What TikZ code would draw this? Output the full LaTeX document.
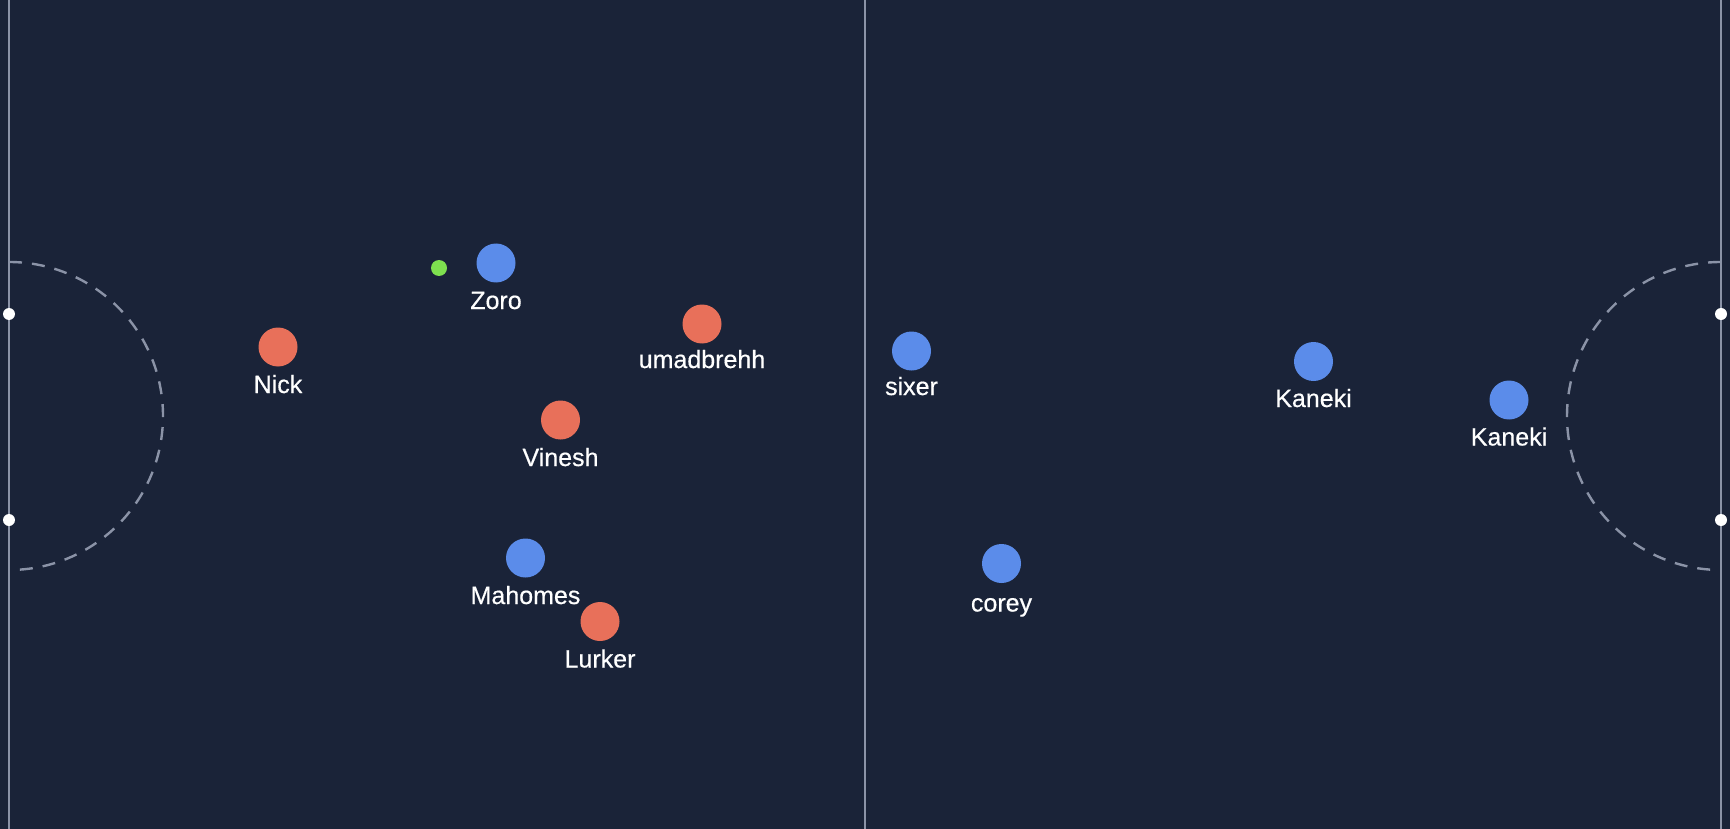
\documentclass[tikz,border=0pt]{standalone}
\usepackage{fontspec}
\setmainfont{Liberation Sans}[FakeBold=0.5]
\definecolor{bg}{HTML}{1A2338}
\definecolor{lineg}{HTML}{8B93A7}
\definecolor{arcg}{HTML}{8B93A7}
\definecolor{pblue}{HTML}{5B8CEA}
\definecolor{pred}{HTML}{E8705A}
\definecolor{pgreen}{HTML}{7EE04F}
\tikzset{
  fieldline/.style={draw=lineg, line width=2.8pt},
  goalarc/.style={draw=arcg, line width=2.4pt, dash pattern=on 13pt off 10pt},
  post/.style={circle, fill=white, minimum size=12pt, inner sep=0pt},
  blueplayer/.style={circle, fill=pblue, minimum size=39pt, inner sep=0pt},
  redplayer/.style={circle, fill=pred, minimum size=39pt, inner sep=0pt},
  ball/.style={circle, fill=pgreen, minimum size=16pt, inner sep=0pt},
  pname/.style={text=white, font=\fontsize{25pt}{28pt}\selectfont, anchor=base, inner sep=0pt}
}
\begin{document}
\begin{tikzpicture}[x=1pt,y=-1pt]
\fill[bg] (0,0) rectangle (1730,829);
\useasboundingbox (0,0) rectangle (1730,829);
% field lines
\coordinate (lt) at (9,0); \coordinate (lb) at (9,829);
\coordinate (mt) at (865,0); \coordinate (mb) at (865,829);
\coordinate (rt) at (1721,0); \coordinate (rb) at (1721,829);
\draw[fieldline] (lt) -- (lb);
\draw[fieldline] (mt) -- (mb);
\draw[fieldline] (rt) -- (rb);
% goal arcs
\coordinate (la) at (9,262);
\coordinate (ra) at (1721,262);
\draw[goalarc] (la) arc[start angle=90, end angle=-90, radius=154pt];
\draw[goalarc] (ra) arc[start angle=90, end angle=270, radius=154pt];
% posts
\node[post] (lp1) at (9,314) {};
\node[post] (lp2) at (9,520) {};
\node[post] (rp1) at (1721,314) {};
\node[post] (rp2) at (1721,520) {};
% ball
\node[ball] (ballnode) at (439,268) {};
% players
\node[blueplayer] (zoro) at (496,263) {};
\node[pname] (zorol) at (496,309) {Zoro};
\node[redplayer] (nick) at (278,347) {};
\node[pname] (nickl) at (278,393) {Nick};
\node[redplayer] (umad) at (702,324) {};
\node[pname] (umadl) at (702,368) {umadbrehh};
\node[redplayer] (vinesh) at (560.5,420) {};
\node[pname] (vineshl) at (560.5,466) {Vinesh};
\node[blueplayer] (mahomes) at (525.5,558) {};
\node[pname] (mahomesl) at (525.5,604) {Mahomes};
\node[redplayer] (lurker) at (600,621.5) {};
\node[pname] (lurkerl) at (600,667.5) {Lurker};
\node[blueplayer] (sixer) at (911.5,351) {};
\node[pname] (sixerl) at (911.5,395) {sixer};
\node[blueplayer] (kaneki1) at (1313.5,361.5) {};
\node[pname] (kaneki1l) at (1313.5,407) {Kaneki};
\node[blueplayer] (kaneki2) at (1509,400) {};
\node[pname] (kaneki2l) at (1509,445.5) {Kaneki};
\node[blueplayer] (corey) at (1001.5,563.5) {};
\node[pname] (coreyl) at (1001.5,611.5) {corey};
\end{tikzpicture}
\end{document}
